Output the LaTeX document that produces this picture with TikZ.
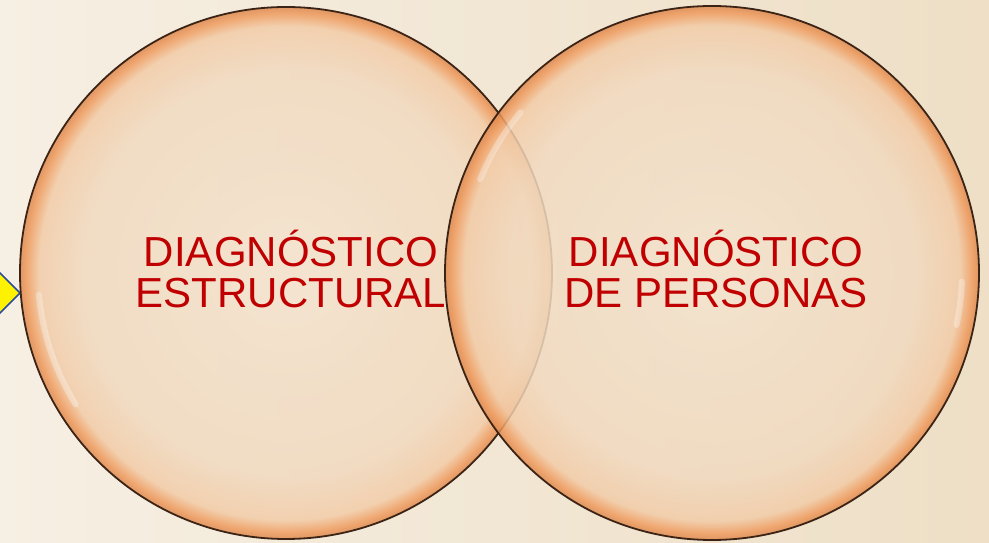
\documentclass[tikz,border=0pt]{standalone}
\usepackage{fontspec}
\setmainfont{Liberation Sans}
\definecolor{fondoA}{HTML}{F6EFE3}
\definecolor{fondoB}{HTML}{EEDFC6}
\definecolor{rojo}{HTML}{C00000}
\definecolor{borde}{HTML}{3B2416}
\definecolor{azul}{HTML}{2B4C9B}
\definecolor{centro}{HTML}{F4E3CE}
\definecolor{melocoton}{HTML}{F1DAC0}
\definecolor{aro}{HTML}{F2CCA8}
\definecolor{naranja}{HTML}{EF9B5E}
\definecolor{naranjaosc}{HTML}{DD884E}
\pgfdeclareradialshading{burbuja}{\pgfpoint{0bp}{0bp}}{color(0bp)=(centro); color(19bp)=(melocoton); color(23.2bp)=(aro); color(24.4bp)=(naranja); color(25bp)=(naranjaosc); color(50bp)=(naranjaosc)}
\begin{document}
\begin{tikzpicture}[x=1pt, y=1pt,
	circulo/.style={circle, draw=borde, line width=1.8pt, shade, shading=burbuja, fill opacity=0.85, inner sep=0pt},
	resplandor/.style={white, line width=6pt, opacity=0.3, line cap=round},
	texto/.style={text=rojo, align=center, inner sep=0pt, font=\fontsize{42}{41}\selectfont}]
	\useasboundingbox (0,0) rectangle (989,543);
	\shade[left color=fondoA, right color=fondoB] (0,0) rectangle (989,543);
	\filldraw[fill=yellow, draw=azul, line width=1.5pt] (-1,271) -- (20,250) -- (-1,229) -- (-22,250) -- cycle;
	\node[circulo, minimum size=532] (estructural) at (286,270) {};
	\node[circulo, minimum size=534] (personas) at (712,270) {};
	\draw[resplandor] ([shift={(185:248)}]estructural.center) arc[start angle=185, end angle=212, radius=248];
	\draw[resplandor] ([shift={(140:250)}]personas.center) arc[start angle=140, end angle=158, radius=250];
	\draw[resplandor] ([shift={(348:250)}]personas.center) arc[start angle=348, end angle=358, radius=250];
	\node[texto] (txtestructural) at (291,274) {DIAGNÓSTICO\\ESTRUCTURAL};
	\node[texto] (txtpersonas) at (716,274) {DIAGNÓSTICO\\DE PERSONAS};
\end{tikzpicture}
\end{document}
